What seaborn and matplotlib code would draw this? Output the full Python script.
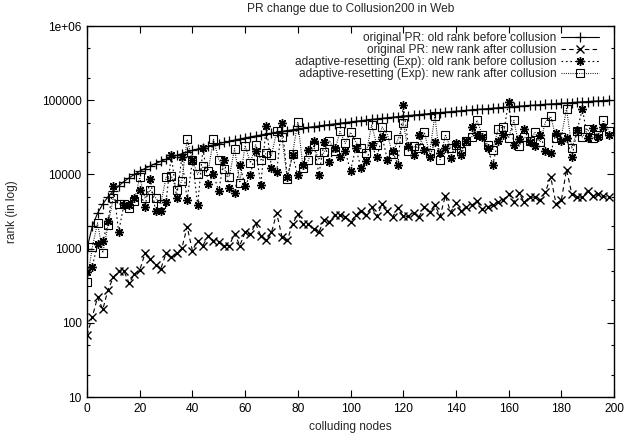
import matplotlib
matplotlib.use("Agg")
import matplotlib.pyplot as plt
import seaborn as sns
from matplotlib.ticker import FixedLocator, FixedFormatter, NullFormatter

# colluding node index (every other node)
nodes = list(range(0, 200, 2))

# original PageRank: rank of each colluding node before collusion
orig_old = [
    1000, 2000, 3000, 4000, 5000, 6000, 7000, 8000, 9000, 10000,
    11000, 12000, 13000, 14000, 15000, 16000, 17000, 18000, 19000, 20000,
    21000, 22000, 23000, 24000, 25000, 26000, 27000, 28000, 29000, 30000,
    31000, 32000, 33000, 34000, 35000, 36000, 37000, 38000, 39000, 40000,
    41000, 42000, 43000, 44000, 45000, 46000, 47000, 48000, 49000, 50000,
    51000, 52000, 53000, 54000, 55000, 56000, 57000, 58000, 59000, 60000,
    61000, 62000, 63000, 64000, 65000, 66000, 67000, 68000, 69000, 70000,
    71000, 72000, 73000, 74000, 75000, 76000, 77000, 78000, 79000, 80000,
    81000, 82000, 83000, 84000, 85000, 86000, 87000, 88000, 89000, 90000,
    91000, 92000, 93000, 94000, 95000, 96000, 97000, 98000, 99000, 100000,
]

# original PageRank: rank after collusion
orig_new = [
    68, 120, 220, 152, 280, 410, 500, 500, 340, 455,
    510, 860, 720, 610, 535, 860, 760, 860, 1010, 1970,
    940, 1280, 1100, 1490, 1280, 1220, 1100, 1100, 1590, 1100,
    1650, 1550, 2190, 1460, 1290, 1650, 3000, 1430, 1290, 2140,
    2920, 2120, 2120, 1850, 1670, 2430, 2290, 2840, 2840, 2650,
    2270, 2810, 3260, 2860, 3650, 2720, 3990, 3200, 2680, 3540,
    2720, 2720, 3000, 2680, 3600, 3100, 3890, 2720, 5160, 3100,
    4080, 3230, 3630, 3820, 4330, 3430, 3630, 3920, 4250, 4560,
    5430, 4250, 5530, 4250, 4930, 4930, 4470, 5860, 9180, 4020,
    4470, 11600, 5430, 4930, 4930, 6030, 5040, 5430, 5040, 4930,
]

# adaptive-resetting (Exp): rank before collusion
adapt_old = [
    480, 570, 1150, 1250, 2330, 6950, 1680, 3880, 3880, 4860,
    6180, 3660, 8640, 3230, 3230, 4210, 18500, 4860, 16900, 4530,
    15400, 3880, 22400, 7530, 10000, 5950, 15800, 6500, 5620, 13500,
    6950, 9900, 20400, 7300, 45500, 12300, 10800, 49000, 9100, 18100,
    9700, 13500, 21600, 28600, 9900, 27400, 14600, 22700, 16900, 20400,
    11200, 22700, 12300, 15200, 25000, 16900, 32000, 15800, 20400, 13500,
    86000, 23900, 18100, 34300, 21600, 16900, 27400, 19300, 22700, 16400,
    26200, 18100, 28600, 44000, 34300, 32000, 22700, 13500, 28600, 34300,
    95000, 25000, 29700, 40500, 27400, 23900, 34300, 20400, 19300, 36600,
    28600, 30900, 16900, 39300, 76000, 30900, 41600, 32000, 44000, 34300,
]

# adaptive-resetting (Exp): rank after collusion
adapt_new = [
    350, 1040, 2220, 880, 2110, 4860, 3990, 3990, 3560, 4420,
    9100, 4750, 6180, 4860, 3990, 9100, 9550, 6180, 8200, 29700,
    15400, 10000, 12800, 11200, 29700, 15800, 11800, 9350, 22200, 7750,
    24500, 14300, 25000, 15400, 19300, 18100, 38000, 32000, 8750, 18700,
    51000, 12300, 15400, 23900, 15800, 19800, 28600, 20400, 38000, 26200,
    36800, 27400, 22700, 19300, 46500, 25000, 43500, 34300, 18700, 29700,
    49500, 20400, 23900, 22700, 36800, 19300, 62000, 15800, 34300, 22700,
    25000, 20400, 28600, 32000, 53500, 34300, 25000, 21600, 40500, 44000,
    30900, 53500, 23900, 32000, 28600, 36800, 27400, 51000, 60500, 30900,
    32000, 77000, 22700, 38000, 32000, 40500, 30900, 34300, 53500, 39000,
]

series_labels = [
    "original PR: old rank before collusion",
    "original PR: new rank after collusion",
    "adaptive-resetting (Exp): old rank before collusion",
    "adaptive-resetting (Exp): new rank after collusion",
]

y_ticks = [10, 100, 1000, 10000, 100000, 1000000]
y_tick_labels = ["10", "100", "1000", "10000", "100000", "1e+06"]
x_ticks = list(range(0, 201, 20))

sns.set_theme(style="ticks")
plt.rcParams["font.family"] = ["Liberation Sans", "DejaVu Sans"]
FS = 8.6

W, H = 627, 436
fig = plt.figure(figsize=(W / 100, H / 100), dpi=100)
left, right, top, bottom = 87, 614, 26, 397
ax = fig.add_axes([left / W, 1 - bottom / H, (right - left) / W, (bottom - top) / H])

styles = [
    dict(marker="+", linestyle="-", markersize=7, markeredgewidth=0.9),
    dict(marker="x", linestyle=(0, (4, 3)), markersize=6, markeredgewidth=1.0),
    dict(marker=(8, 2, 0), linestyle=(0, (1.5, 2.5)), markersize=6.3, markeredgewidth=1.0),
    dict(marker="s", linestyle=(0, (0.8, 1.2)), markersize=5.5, markeredgewidth=0.8,
         markerfacecolor="none"),
]

for vals, lab, kw in zip([orig_old, orig_new, adapt_old, adapt_new], series_labels, styles):
    sns.lineplot(x=nodes, y=vals, ax=ax, color="black", linewidth=0.8,
                 markeredgecolor="black", label=lab, **kw)

ax.set_yscale("log")
ax.set_xlim(0, 200)
ax.set_ylim(10, 1e6)

ax.yaxis.set_major_locator(FixedLocator(y_ticks))
ax.yaxis.set_major_formatter(FixedFormatter(y_tick_labels))
minor = [m * 10 ** k for k in range(1, 6) for m in (2, 5)]
ax.yaxis.set_minor_locator(FixedLocator(minor))
ax.yaxis.set_minor_formatter(NullFormatter())
ax.xaxis.set_major_locator(FixedLocator(x_ticks))

ax.tick_params(which="both", direction="in", top=True, right=True,
               colors="black", labelsize=FS, width=0.8)
ax.tick_params(which="major", length=5, pad=4)
ax.tick_params(which="minor", length=2.5)
for s in ax.spines.values():
    s.set_color("black")
    s.set_linewidth(1.0)

ax.set_xlabel("")
ax.set_ylabel("")
fig.text((left + right) / 2 / W, 1 - 9 / H, "PR change due to Collusion200 in Web",
         ha="center", va="center", fontsize=FS)
fig.text((left + right) / 2 / W, 1 - 427 / H, "colluding nodes",
         ha="center", va="center", fontsize=FS)
fig.text(12 / W, 1 - (top + bottom) / 2 / H, "rank (in log)",
         ha="center", va="center", rotation=90, fontsize=FS)

ax.legend(loc="upper right", bbox_to_anchor=(599 / W, 1 - 32 / H),
          bbox_transform=fig.transFigure, frameon=False, markerfirst=False,
          fontsize=FS, numpoints=1, handlelength=3.2, handletextpad=0.35,
          labelspacing=0.0, borderpad=0, borderaxespad=0)

fig.savefig("out.png", dpi=100)
